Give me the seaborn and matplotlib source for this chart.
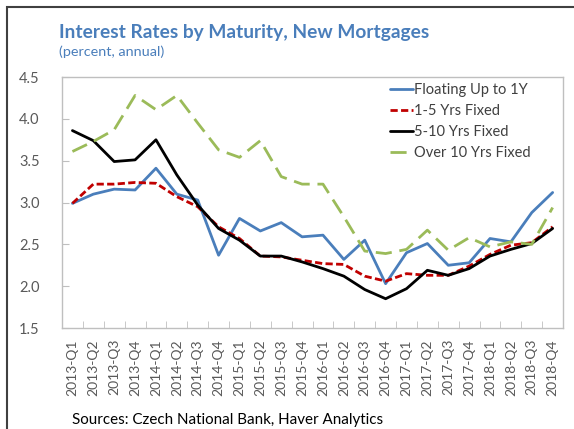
import matplotlib
matplotlib.use("Agg")
import matplotlib.pyplot as plt
import seaborn as sns
import pandas as pd
from matplotlib.patches import Rectangle
from matplotlib.ticker import MultipleLocator

quarters = [f"{y}-Q{q}" for y in range(2013, 2019) for q in range(1, 5)]

floating_1y = [2.99, 3.10, 3.16, 3.15, 3.41, 3.10, 3.03, 2.37,
               2.81, 2.66, 2.76, 2.59, 2.61, 2.32, 2.55, 2.03,
               2.40, 2.51, 2.25, 2.28, 2.57, 2.53, 2.88, 3.12]
fixed_1_5 = [2.99, 3.22, 3.22, 3.24, 3.23, 3.07, 2.95, 2.71,
             2.57, 2.36, 2.35, 2.31, 2.27, 2.26, 2.12, 2.06,
             2.15, 2.13, 2.13, 2.24, 2.38, 2.49, 2.52, 2.71]
fixed_5_10 = [3.86, 3.74, 3.49, 3.51, 3.75, 3.33, 2.97, 2.69,
              2.55, 2.36, 2.36, 2.29, 2.21, 2.12, 1.96, 1.85,
              1.97, 2.19, 2.13, 2.21, 2.36, 2.44, 2.51, 2.69]
fixed_over_10 = [3.61, 3.73, 3.87, 4.28, 4.11, 4.28, 3.95, 3.63,
                 3.54, 3.74, 3.31, 3.22, 3.22, 2.83, 2.42, 2.39,
                 2.44, 2.67, 2.43, 2.58, 2.47, 2.53, 2.50, 2.94]

series_names = ["Floating Up to 1Y", "1-5 Yrs Fixed", "5-10 Yrs Fixed", "Over 10 Yrs Fixed"]
series_values = [floating_1y, fixed_1_5, fixed_5_10, fixed_over_10]
series_colors = ["#4A7EBB", "#C00000", "#000000", "#9BBB59"]
series_styles = ["-", (0, (2.6, 1.2)), "-", (0, (5.8, 2.8))]

sns.set_style("white")
plt.rcParams["font.family"] = ["Lato", "DejaVu Sans"]

df = pd.DataFrame({"pos": list(range(len(quarters)))})
for name, vals in zip(series_names, series_values):
    df[name] = vals

fig = plt.figure(figsize=(5.74, 4.29), dpi=100)
ax = fig.add_axes([0.108, 0.2354, 0.873, 0.585])

for name, color, ls in zip(series_names, series_colors, series_styles):
    sns.lineplot(data=df, x="pos", y=name, ax=ax, color=color,
                 linestyle=ls, linewidth=2.0, label=name)

ax.set_xlim(-0.5, len(quarters) - 0.5)
ax.set_ylim(1.5, 4.5)
ax.yaxis.set_major_locator(MultipleLocator(0.5))
ax.set_yticklabels([f"{v:.1f}" for v in ax.get_yticks()])
ax.set_xticks(range(len(quarters)))
ax.set_xticklabels(quarters, rotation=90)
ax.set_xticks([i + 0.5 for i in range(len(quarters) - 1)], minor=True)
ax.set_xlabel("")
ax.set_ylabel("")

ax.tick_params(axis="x", which="major", length=0, pad=8, labelsize=10, labelcolor="#595959")
ax.tick_params(axis="x", which="minor", direction="in", length=5, color="#BFBFBF", bottom=True)
ax.tick_params(axis="y", direction="in", length=5, color="#BFBFBF", left=True,
               labelsize=10.5, labelcolor="#595959", pad=16)
for sp in ax.spines.values():
    sp.set_color("#BFBFBF")
    sp.set_linewidth(1.0)

leg = ax.legend(loc="upper left", bbox_to_anchor=(0.655, 0.977), frameon=False,
                fontsize=10.5, handlelength=1.55, handletextpad=0.1,
                labelspacing=0.48, borderpad=0, borderaxespad=0)
for t in leg.get_texts():
    t.set_color("#404040")

fig.text(59 / 574, 1 - 38 / 429, "Interest Rates by Maturity, New Mortgages",
         fontsize=13.8, fontweight="bold", color="#4A7EBB")
fig.text(59 / 574, 1 - 56 / 429, "(percent, annual)", fontsize=10.4, color="#4A7EBB")
fig.text(72 / 574, 1 - 424 / 429, "Sources: Czech National Bank, Haver Analytics",
         fontsize=10.9, color="#000000")

fig.patches.append(Rectangle((7 / 574, -0.1), 1.2, (1 - 7 / 429) + 0.1,
                             transform=fig.transFigure, fill=False,
                             edgecolor="#404040", linewidth=1.5))

fig.savefig("out.png", dpi=100)
